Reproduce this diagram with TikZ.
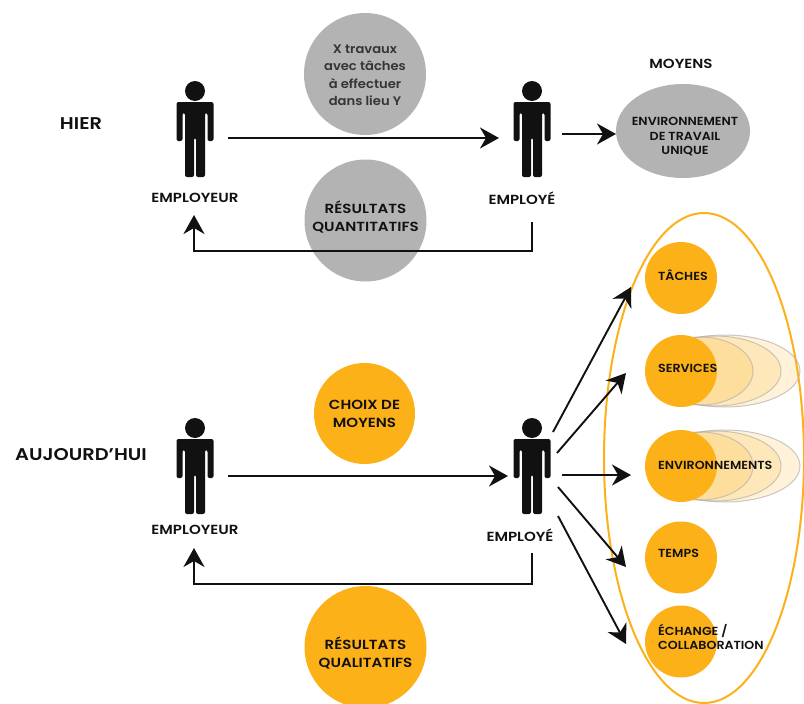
\documentclass[tikz,border=0pt]{standalone}
\usepackage{fontspec}
\setmainfont{Poppins}
\newfontfamily\widefont[FakeStretch=1.14,BoldFont={Poppins SemiBold}]{Poppins}
\newfontfamily\midfont[FakeStretch=1.08,BoldFont={Poppins SemiBold}]{Poppins}
\newfontfamily\lowfont[FakeStretch=1.06,BoldFont={Poppins SemiBold}]{Poppins}
\usetikzlibrary{arrows.meta}
\definecolor{orangec}{HTML}{FDB119}
\definecolor{grayc}{HTML}{B3B3B3}
\definecolor{ink}{HTML}{111111}
\tikzset{
  lab/.style={font=\widefont\fontsize{13.2}{18}\selectfont\bfseries, text=ink, align=center, inner sep=0pt},
  smalllab/.style={font=\midfont\fontsize{11.7}{14.5}\selectfont\bfseries, text=ink, align=center, inner sep=0pt},
  lowerlab/.style={font=\lowfont\fontsize{12.4}{17.5}\selectfont\bfseries, text=ink!85, align=center, inner sep=0pt},
  titlelab/.style={font=\widefont\fontsize{17}{19}\selectfont\bfseries, text=ink, inner sep=0pt},
  graycirc/.style={circle, fill=grayc, minimum size=#1, inner sep=0pt},
  orangecirc/.style={circle, fill=orangec, minimum size=#1, inner sep=0pt},
  ghost/.style={draw=gray!60, draw opacity=.7, line width=1pt, fill=orangec, fill opacity=.17},
  conn/.style={draw=ink, line width=1.9pt, -{Stealth[length=19pt,width=21pt,inset=6pt]}},
  personbox/.style={minimum width=37pt, minimum height=97pt, inner sep=0pt},
  pics/personfig/.style={code={
    \fill[ink] (0,-39) circle (10);
    \fill[ink, rounded corners=2pt] (-18.5,-28) -- (18.5,-28) -- (18.5,11) -- (12.5,11) -- (12.5,-17) -- (10,-17) -- (10,47) -- (1,47) -- (1,8) -- (-1,8) -- (-1,47) -- (-10,47) -- (-10,-17) -- (-12.5,-17) -- (-12.5,11) -- (-18.5,11) -- cycle;
  }}
}
\begin{document}
\begin{tikzpicture}[x=1pt,y=-1pt]
\useasboundingbox (0,0) rectangle (804,704);
% enclosing ellipse
\draw[orangec, line width=2pt] (704,458) ellipse [x radius=100, y radius=245];
% gray and orange circles
\node[graycirc=122pt] (c1) at (365,74) {};
\node[lowerlab] (c1t) at (365,75) {X travaux\\avec tâches\\à effectuer\\dans lieu Y};
\node[graycirc=122pt] (c2) at (365.5,220.5) {};
\node[lab] (c2t) at (365.5,216.5) {RÉSULTATS\\QUANTITATIFS};
\fill[grayc] (683,131) ellipse [x radius=67, y radius=47];
\node[smalllab] (c3t) at (685,137) {ENVIRONNEMENT\\DE TRAVAIL\\UNIQUE};
\node[orangecirc=101pt, lab] (c4) at (364.5,413.5) {CHOIX DE\\MOYENS};
\node[orangecirc=122pt] (c5) at (365.5,647) {};
\node[lab] (c5t) at (365.5,652.5) {RÉSULTATS\\QUALITATIFS};
% ghosts
\foreach \yy in {371,466}{
  \draw[ghost] (725,\yy) ellipse [x radius=75, y radius=36];
  \draw[ghost] (715,\yy) ellipse [x radius=66, y radius=35];
  \draw[ghost] (700,\yy) ellipse [x radius=53, y radius=34];
}
\node[orangecirc=72pt] (o1) at (681,278) {};
\node[orangecirc=72pt] (o2) at (681,371) {};
\node[orangecirc=72pt] (o3) at (681,466) {};
\node[orangecirc=72pt] (o4) at (681,557.5) {};
\node[orangecirc=72pt] (o5) at (681,641.5) {};
\node[smalllab, anchor=west] (t1) at (658,275) {TÂCHES};
\node[smalllab, anchor=west] (t2) at (658,368) {SERVICES};
\node[smalllab, anchor=west] (t3) at (658,465) {ENVIRONNEMENTS};
\node[smalllab, anchor=west] (t4) at (658,553) {TEMPS};
\node[smalllab, anchor=west, align=left] (t5) at (658,637) {ÉCHANGE /\\COLLABORATION};
% persons
\node[personbox] (p1) at (195,130) {}; \pic at (p1.center) {personfig};
\node[personbox] (p2) at (532,130) {}; \pic at (p2.center) {personfig};
\node[personbox] (p3) at (195,467) {}; \pic at (p3.center) {personfig};
\node[personbox] (p4) at (532,467) {}; \pic at (p4.center) {personfig};
% labels
\node[titlelab] (h) at (81,124) {HIER};
\node[titlelab] (a) at (81,455) {AUJOURD’HUI};
\node[lab] (m) at (681,64) {MOYENS};
\node[lab] (e1) at (195,198) {EMPLOYEUR};
\node[lab] (e2) at (522,198) {EMPLOYÉ};
\node[lab] (e3) at (195,530) {EMPLOYEUR};
\node[lab] (e4) at (520,535) {EMPLOYÉ};
% connector ends
\coordinate (a1s) at (228,138); \coordinate (a1e) at (499,138);
\coordinate (a2s) at (562,134); \coordinate (a2e) at (616,134);
\coordinate (r1s) at (532,222); \coordinate (r1m) at (532,251); \coordinate (r1n) at (194,251); \coordinate (r1e) at (194,215);
\coordinate (a3s) at (228,476); \coordinate (a3e) at (508,476);
\coordinate (r2s) at (532,553); \coordinate (r2m) at (532,584); \coordinate (r2n) at (194,584); \coordinate (r2e) at (194,548);
\coordinate (f1s) at (553,432); \coordinate (f1e) at (631,287);
\coordinate (f2s) at (557,453); \coordinate (f2e) at (626,373);
\coordinate (f3s) at (562,475); \coordinate (f3e) at (631,475);
\coordinate (f4s) at (558,487); \coordinate (f4e) at (626,567);
\coordinate (f5s) at (558,516); \coordinate (f5e) at (626,644);
\draw[conn] (a1s) -- (a1e);
\draw[conn] (a2s) -- (a2e);
\draw[conn] (r1s) -- (r1m) -- (r1n) -- (r1e);
\draw[conn] (a3s) -- (a3e);
\draw[conn] (r2s) -- (r2m) -- (r2n) -- (r2e);
\draw[conn] (f1s) -- (f1e);
\draw[conn] (f2s) -- (f2e);
\draw[conn] (f3s) -- (f3e);
\draw[conn] (f4s) -- (f4e);
\draw[conn] (f5s) -- (f5e);
\end{tikzpicture}
\end{document}
